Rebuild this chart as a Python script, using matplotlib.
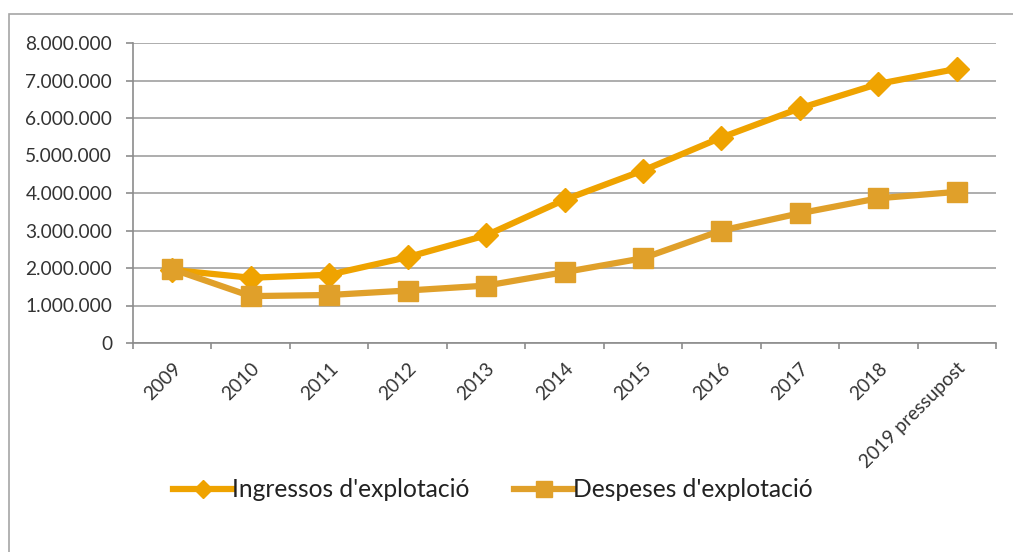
import matplotlib.pyplot as plt
from matplotlib.patches import Rectangle
from matplotlib.ticker import FuncFormatter
import numpy as np

plt.rcParams['font.family'] = ['Lato', 'DejaVu Sans']

years = ['2009', '2010', '2011', '2012', '2013', '2014', '2015', '2016', '2017', '2018', '2019 pressupost']
ingressos = [1950000, 1740000, 1820000, 2290000, 2870000, 3820000, 4600000, 5480000, 6260000, 6910000, 7310000]
despeses = [1970000, 1250000, 1280000, 1400000, 1530000, 1890000, 2260000, 3000000, 3460000, 3860000, 4030000]

fig = plt.figure(figsize=(10.13, 5.52), dpi=100)
ax = fig.add_axes([133 / 1013, 1 - 343 / 552, (996 - 133) / 1013, (343 - 43) / 552])

# outer frame of the chart object
fig.patches.append(Rectangle((9 / 1013, -0.1), 1.2, 1 - 14 / 552 + 0.1, transform=fig.transFigure,
                             fill=False, edgecolor='#a6a6a6', linewidth=1.2))

x = np.arange(len(years))
ax.plot(x, ingressos, color='#EFA300', linewidth=4.5, marker='D', markersize=12,
        label="Ingressos d'explotació", zorder=3)
ax.plot(x, despeses, color='#E0A02A', linewidth=4.5, marker='s', markersize=15,
        label="Despeses d'explotació", zorder=3)

ax.set_xlim(-0.5, len(years) - 0.5)
ax.set_ylim(0, 8000000)
ax.set_yticks(np.arange(0, 8000001, 1000000))
ax.yaxis.set_major_formatter(FuncFormatter(lambda v, p: f'{int(v):,}'.replace(',', '.')))
ax.grid(axis='y', color='#a0a0a0', linewidth=1.2)
ax.set_axisbelow(True)

ax.set_xticks(x)
ax.set_xticklabels(years, rotation=45, ha='right', rotation_mode='anchor', fontsize=13.8, color='#333333')
ax.set_xticks(np.arange(-0.5, len(years)), minor=True)
ax.tick_params(axis='x', which='major', length=0, pad=12)
ax.tick_params(axis='x', which='minor', length=4.5, color='#8c8c8c', width=1.2)
ax.tick_params(axis='y', length=5, color='#8c8c8c', width=1.2, labelsize=13.8, labelcolor='#333333', pad=10)

for s in ['top', 'right']:
    ax.spines[s].set_visible(False)
for s in ['left', 'bottom']:
    ax.spines[s].set_color('#8c8c8c')
    ax.spines[s].set_linewidth(1.2)

leg = fig.legend(loc='center', bbox_to_anchor=(493 / 1013, 1 - 490 / 552), ncol=2, frameon=False,
                 fontsize=17.7, handlelength=2.4, handletextpad=0.0, columnspacing=1.8, markerscale=0.75)
for t in leg.get_texts():
    t.set_color('#222222')

fig.savefig('out.png', dpi=100)
